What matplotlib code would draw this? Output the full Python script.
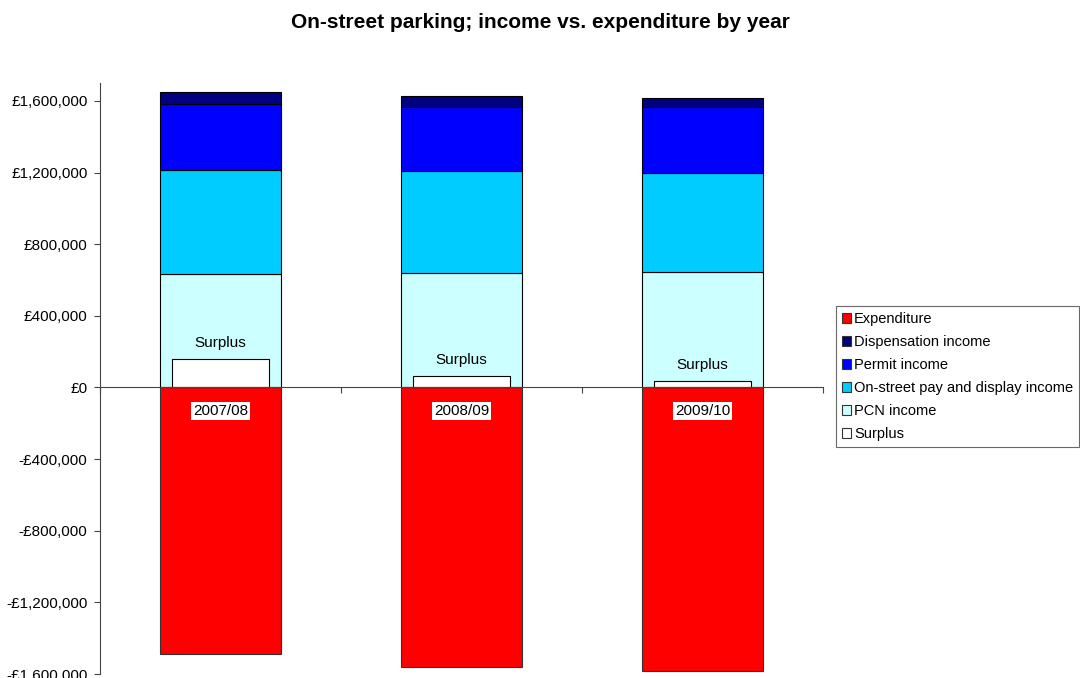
import numpy as np
import matplotlib.pyplot as plt
from matplotlib.patches import Patch
from matplotlib.ticker import FuncFormatter

plt.rcParams['font.family'] = ['Liberation Sans', 'DejaVu Sans']

# income and spending per financial year (GBP)
years = ['2007/08', '2008/09', '2009/10']
pcn_income = [636000, 641000, 647000]
pay_display_income = [580000, 570000, 549000]
permit_income = [369000, 355000, 370000]
dispensation_income = [67000, 64000, 52000]
expenditure = [1489000, 1562000, 1582000]
surplus = [161000, 66000, 38000]

col_exp = '#FF0000'
col_disp = '#000080'
col_permit = '#0000FF'
col_pd = '#00CCFF'
col_pcn = '#CCFFFF'
col_surplus = '#FFFFFF'

fig = plt.figure(figsize=(10.8, 6.78), dpi=100)
ax = fig.add_axes([100/1080, 1 - 674/678, 723/1080, 591/678])

x = np.arange(len(years))
w = 0.5
edge = dict(edgecolor='black', linewidth=0.8)

# income stacked upwards, expenditure hanging below zero
ax.bar(x, [-e for e in expenditure], w, color=col_exp, edgecolor='#333333', linewidth=0.8)
bottom = np.zeros(len(years))
for vals, col in [(pcn_income, col_pcn), (pay_display_income, col_pd),
                  (permit_income, col_permit), (dispensation_income, col_disp)]:
    ax.bar(x, vals, w, bottom=bottom, color=col, **edge)
    bottom += np.array(vals)

# surplus as narrower bar in front of the PCN block
ax.bar(x, surplus, 0.4, color=col_surplus, zorder=2, **edge)

for i in range(len(years)):
    ax.annotate('Surplus', (x[i], surplus[i]), xytext=(0, 11.5), textcoords='offset points',
                ha='center', va='center', fontsize=11)
    ax.text(x[i], -130000, years[i], ha='center', va='center', fontsize=11, zorder=5,
            bbox=dict(facecolor='white', edgecolor='none', pad=1.5))

ax.set_xlim(-0.5, 2.5)
ax.set_ylim(-1600000, 1700000)
ax.set_yticks(np.arange(-1600000, 1600001, 400000))

def money(v, pos):
    v = int(round(v))
    if v < 0:
        return '-£{:,}'.format(-v)
    return '£{:,}'.format(v)

ax.yaxis.set_major_formatter(FuncFormatter(money))
ax.tick_params(axis='y', labelsize=11, length=4, width=0.8, pad=5, color='#444444')
ax.set_xticks([-0.5, 0.5, 1.5, 2.5])
ax.set_xticklabels([])
ax.tick_params(axis='x', length=4, width=0.8, direction='out', color='#444444')

ax.spines['top'].set_visible(False)
ax.spines['right'].set_visible(False)
ax.spines['bottom'].set_position(('data', 0))
ax.spines['bottom'].set_color('#444444')
ax.spines['left'].set_color('#444444')
ax.spines['bottom'].set_zorder(3)

handles = [Patch(facecolor=col_exp, edgecolor='#333333', linewidth=0.8),
           Patch(facecolor=col_disp, edgecolor='#333333', linewidth=0.8),
           Patch(facecolor=col_permit, edgecolor='#333333', linewidth=0.8),
           Patch(facecolor=col_pd, edgecolor='#333333', linewidth=0.8),
           Patch(facecolor=col_pcn, edgecolor='#333333', linewidth=0.8),
           Patch(facecolor=col_surplus, edgecolor='#333333', linewidth=0.8)]
labels = ['Expenditure', 'Dispensation income', 'Permit income',
          'On-street pay and display income', 'PCN income', 'Surplus']
leg = fig.legend(handles, labels, loc='upper left', bbox_to_anchor=(836/1080, 1 - 306/678),
                 fontsize=10.5, frameon=True, fancybox=False, handlelength=0.65, handleheight=0.65,
                 handletextpad=0.2, labelspacing=0.62, borderpad=0.4, borderaxespad=0)
leg.get_frame().set_edgecolor('#444444')
leg.get_frame().set_linewidth(0.8)

fig.text(0.5, 1 - 22/678, 'On-street parking; income vs. expenditure by year',
         ha='center', va='center', fontsize=15, fontweight='bold')

fig.savefig('out.png', dpi=100)
